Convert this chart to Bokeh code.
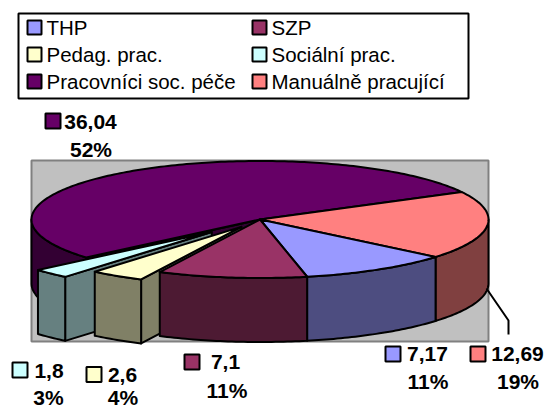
import numpy as np
from bokeh.plotting import figure
from bokeh.models import Range1d
from bokeh.core.properties import value
from bokeh.embed import file_html
from bokeh.resources import INLINE

categories = ["THP", "SZP", "Pedag. prac.", "Sociální prac.", "Pracovníci soc. péče", "Manuálně pracující"]
values = [7.17, 7.1, 2.6, 1.8, 36.04, 12.69]
value_labels = ["7,17", "7,1", "2,6", "1,8", "36,04", "12,69"]
percent_labels = ["11%", "11%", "4%", "3%", "52%", "19%"]
face_colors = ["#9999FF", "#993366", "#FFFFCC", "#CCFFFF", "#660066", "#FF8080"]
wall_colors = ["#4D4D80", "#4D1A33", "#808066", "#668080", "#330033", "#804040"]
explode = [0, 0, 0.15, 0.30, 0, 0]

# layout, in page pixels
CX, CY, RX, RY, DEPTH = 259.5, 219.0, 228.5, 58.5, 64.0
START = 39.8
FONT = value("Liberation Sans")

p = figure(width=546, height=409, output_backend="svg", toolbar_location=None,
           x_range=Range1d(0, 546), y_range=Range1d(409, 0),
           x_axis_type=None, y_axis_type=None, min_border=0, outline_line_color=None)
p.grid.visible = False
p.background_fill_color = "white"

# legend frame and plot frame
p.quad(left=[18], right=[468], top=[13], bottom=[98], fill_color="white", line_color="black", line_width=2)
p.quad(left=[31], right=[488], top=[160], bottom=[341], fill_color="#C0C0C0", line_color="#808080", line_width=2)

spans = np.array(values) / sum(values) * 360
ends = START + np.cumsum(spans)
starts = ends - spans


def pt(t, ox=0.0, oy=0.0):
    r = np.radians(t)
    return CX + RX * np.cos(r) + ox, CY + RY * np.sin(r) + oy


def arc(a, b, ox, oy):
    ts = np.linspace(a, b, max(2, int(abs(b - a)) + 2))
    return pt(ts, ox, oy)


def draw_slice(i):
    t1, t2 = starts[i], ends[i]
    mid = np.radians((t1 + t2) / 2)
    ox = explode[i] * RX * np.cos(mid)
    oy = explode[i] * RY * np.sin(mid)
    style = dict(line_color="black", line_width=2, line_join="round")
    # radial wall seen through an opening on the slice's leading edge
    if 90 < t1 < 270:
        ex, ey = pt(t1, ox, oy)
        ax, ay = CX + ox, CY + oy
        p.patch([ax, ex, ex, ax], [ay, ey, ey + DEPTH, ay + DEPTH], fill_color=wall_colors[i], **style)
    # outer wall, front half of the ellipse only
    for lo, hi in ((0, 180), (360, 540)):
        a, b = max(t1, lo), min(t2, hi)
        if a < b:
            x, y = arc(a, b, ox, oy)
            p.patch(list(x) + list(x[::-1]), list(y) + list((y + DEPTH)[::-1]),
                    fill_color=wall_colors[i], **style)
    # top face
    x, y = arc(t1, t2, ox, oy)
    p.patch([CX + ox] + list(x), [CY + oy] + list(y), fill_color=face_colors[i], **style)


for i in (4, 5, 0, 3, 2, 1):
    draw_slice(i)

# leader line of the last slice
p.line([486, 508, 508], [288, 320, 334], line_color="black", line_width=2)

# legend
leg_x = [27, 252, 27, 252, 27, 252]
leg_y = [27, 27, 54, 54, 81, 81]
p.quad(left=leg_x, right=[v + 14 for v in leg_x], top=[v - 7 for v in leg_y], bottom=[v + 7 for v in leg_y],
       fill_color=face_colors, line_color="black", line_width=2)
p.text(x=[v + 19 for v in leg_x], y=leg_y, text=categories, text_font=FONT, text_font_size="20.5px",
       text_baseline="middle", text_align="left", text_color="black")

# data labels
sw_x = [385, 184, 86, 12, 45, 470]
sw_y = [353.5, 361.5, 374, 369.5, 120.5, 353.5]
val_x = [427, 225, 122, 48.5, 90, 517]
val_y = [353, 361, 374, 370, 121, 353]
pct_x = [427.5, 226.5, 122.5, 48, 90.5, 517.5]
pct_y = [381, 390, 397, 397, 149, 381]
p.quad(left=sw_x, right=[v + 15 for v in sw_x], top=[v - 7.5 for v in sw_y], bottom=[v + 7.5 for v in sw_y],
       fill_color=face_colors, line_color="black", line_width=2)
for xs, ys, ts in ((val_x, val_y, value_labels), (pct_x, pct_y, percent_labels)):
    p.text(x=xs, y=ys, text=ts, text_font=FONT, text_font_size="21px", text_font_style="bold",
           text_baseline="middle", text_align="center", text_color="black")

open("out.html", "w").write(file_html(p, INLINE))
